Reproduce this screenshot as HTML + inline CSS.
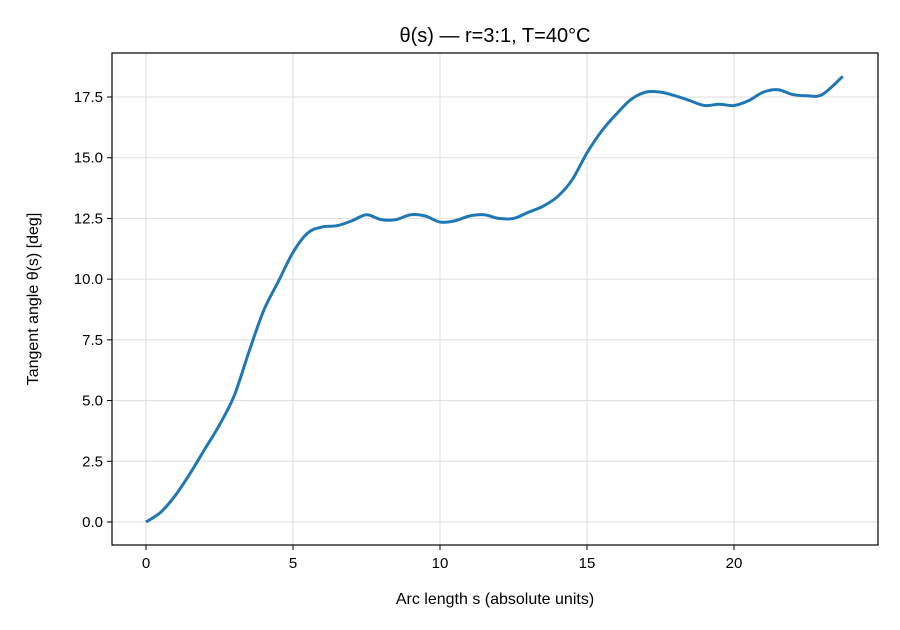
<!DOCTYPE html>
<html><head><meta charset="utf-8"><style>
body{margin:0;background:#fff;}
svg{display:block;font-family:"Liberation Sans","DejaVu Sans",sans-serif;}
</style></head><body>
<svg id="chart" width="900" height="630">
<rect x="0" y="0" width="900" height="630" fill="#fff"/>
<g id="grid"></g>
<path id="line" fill="none" stroke="#1f77b4" stroke-width="3" stroke-linejoin="round"/>
<rect x="112" y="53" width="766" height="492" fill="none" stroke="#000" stroke-width="1.2"/>
<g id="ticks"></g>
<text x="495" y="42" font-size="20" text-anchor="middle">θ(s) — r=3:1, T=40°C</text>
<text x="495" y="604" font-size="16" text-anchor="middle">Arc length s (absolute units)</text>
<text transform="translate(38,299) rotate(-90)" font-size="16" text-anchor="middle">Tangent angle θ(s) [deg]</text>
</svg>
<script>
const sVals=[0,0.5,1,1.5,2,2.5,3,3.5,4,4.5,5,5.5,6,6.5,7,7.5,8,8.5,9,9.5,10,10.5,11,11.5,12,12.5,13,13.5,14,14.5,15,15.5,16,16.5,17,17.5,18,18.5,19,19.5,20,20.5,21,21.5,22,22.5,23,23.7];
const thetaVals=[0,0.4,1.1,2.0,3.0,4.0,5.2,7.0,8.7,9.9,11.1,11.9,12.15,12.2,12.4,12.65,12.45,12.45,12.65,12.6,12.35,12.4,12.6,12.65,12.5,12.5,12.75,13.0,13.4,14.1,15.2,16.1,16.8,17.4,17.7,17.7,17.55,17.35,17.15,17.2,17.15,17.35,17.7,17.8,17.6,17.55,17.6,18.35];
const xTicks=[0,5,10,15,20];
const yTicks=[0,2.5,5,7.5,10,12.5,15,17.5];
const X=v=>146+v*29.4;
const Y=v=>522-v*24.286;
const NS="http://www.w3.org/2000/svg";
const grid=document.getElementById('grid'),ticks=document.getElementById('ticks');
function mk(tag,attrs,parent){const e=document.createElementNS(NS,tag);for(const k in attrs)e.setAttribute(k,attrs[k]);parent.appendChild(e);return e;}
xTicks.forEach(t=>{
  const g=mk('line',{x1:X(t),x2:X(t),y1:53,y2:545,stroke:'#ddd','stroke-width':1},grid);
  
  
  mk('line',{x1:X(t),x2:X(t),y1:545,y2:550,stroke:'#000'},ticks);
  const tx=mk('text',{x:X(t),y:568,'font-size':15,'text-anchor':'middle'},ticks);tx.textContent=t;
  
  
});
yTicks.forEach(t=>{
  const g=mk('line',{x1:112,x2:878,y1:Y(t),y2:Y(t),stroke:'#ddd','stroke-width':1},grid);
  
  
  mk('line',{x1:107,x2:112,y1:Y(t),y2:Y(t),stroke:'#000'},ticks);
  const tx=mk('text',{x:103,y:Y(t)+5,'font-size':15,'text-anchor':'end'},ticks);tx.textContent=t.toFixed(1);
  
  
});
// smooth curve through points (Catmull-Rom)
const P=sVals.map((s,i)=>[X(s),Y(thetaVals[i])]);
let d='M'+P[0][0]+','+P[0][1];
for(let i=0;i<P.length-1;i++){
  const p0=P[Math.max(0,i-1)],p1=P[i],p2=P[i+1],p3=P[Math.min(P.length-1,i+2)];
  const c1=[p1[0]+(p2[0]-p0[0])/6,p1[1]+(p2[1]-p0[1])/6];
  const c2=[p2[0]-(p3[0]-p1[0])/6,p2[1]-(p3[1]-p1[1])/6];
  d+=` C${c1[0]},${c1[1]} ${c2[0]},${c2[1]} ${p2[0]},${p2[1]}`;
}
document.getElementById('line').setAttribute('d',d);
</script>
</body></html>
